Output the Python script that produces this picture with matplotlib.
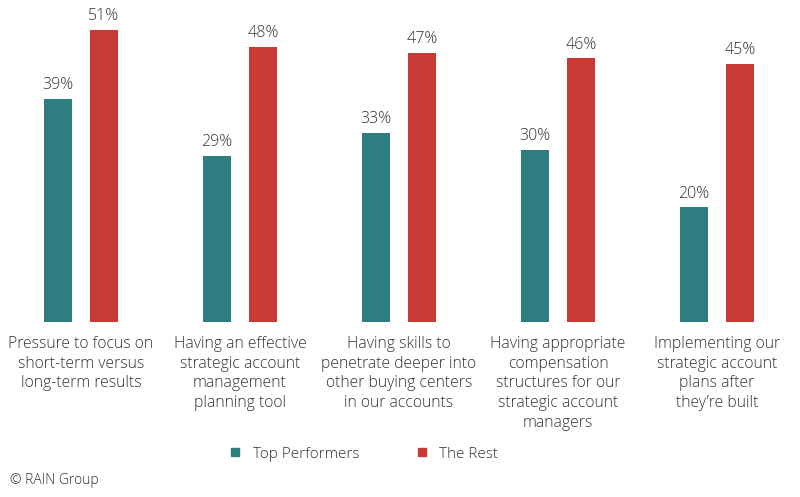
import matplotlib.pyplot as plt
from matplotlib.lines import Line2D
import numpy as np

plt.rcParams['font.family'] = ['Open Sans', 'DejaVu Sans']
plt.rcParams['font.weight'] = 'light'

categories = [
    "Pressure to focus on\nshort-term versus\nlong-term results",
    "Having an effective\nstrategic account\nmanagement\nplanning tool",
    "Having skills to\npenetrate deeper into\nother buying centers\nin our accounts",
    "Having appropriate\ncompensation\nstructures for our\nstrategic account\nmanagers",
    "Implementing our\nstrategic account\nplans after\nthey\u2019re built",
]
top_performers = [39, 29, 33, 30, 20]
the_rest = [51, 48, 47, 46, 45]
series_names = ["Top Performers", "The Rest"]

teal = '#2E7D80'
red = '#C93A35'
text_color = '#333333'

fig = plt.figure(figsize=(8, 4.97), dpi=100)
ax = fig.add_axes([0, 175 / 497, 1, 322 / 497])

x = np.arange(len(categories))
w = 0.176
off = 0.145
b1 = ax.bar(x - off, top_performers, w, color=teal)
b2 = ax.bar(x + off, the_rest, w, color=red)

# percentage labels on top of each bar
for bars, vals in ((b1, top_performers), (b2, the_rest)):
    for bar, v in zip(bars, vals):
        ax.text(bar.get_x() + bar.get_width() / 2, v + 1.0, f"{v}%",
                ha='center', va='bottom', fontsize=11.5, color=text_color)

ax.set_xlim(-0.509, 4.522)
ax.set_ylim(0, 56.2)
ax.set_xticks(x)
ax.set_xticklabels(categories, fontsize=11.3, color=text_color, linespacing=1.31)
ax.tick_params(axis='x', length=0, pad=10)
ax.set_yticks([])
for s in ax.spines.values():
    s.set_visible(False)

handles = [Line2D([], [], marker='s', linestyle='none', markersize=6, color=teal),
           Line2D([], [], marker='s', linestyle='none', markersize=6, color=red)]
fig.legend(handles, series_names, loc='center', bbox_to_anchor=(364.5 / 800, 1 - 454 / 497),
           ncol=2, frameon=False, fontsize=11, labelcolor=text_color,
           handlelength=0.6, handletextpad=0.85, columnspacing=3.8)

fig.text(10 / 800, 1 - 481 / 497, "\u00a9 RAIN Group", fontsize=10, color=text_color,
         ha='left', va='center')

fig.savefig('out.png', dpi=100)
